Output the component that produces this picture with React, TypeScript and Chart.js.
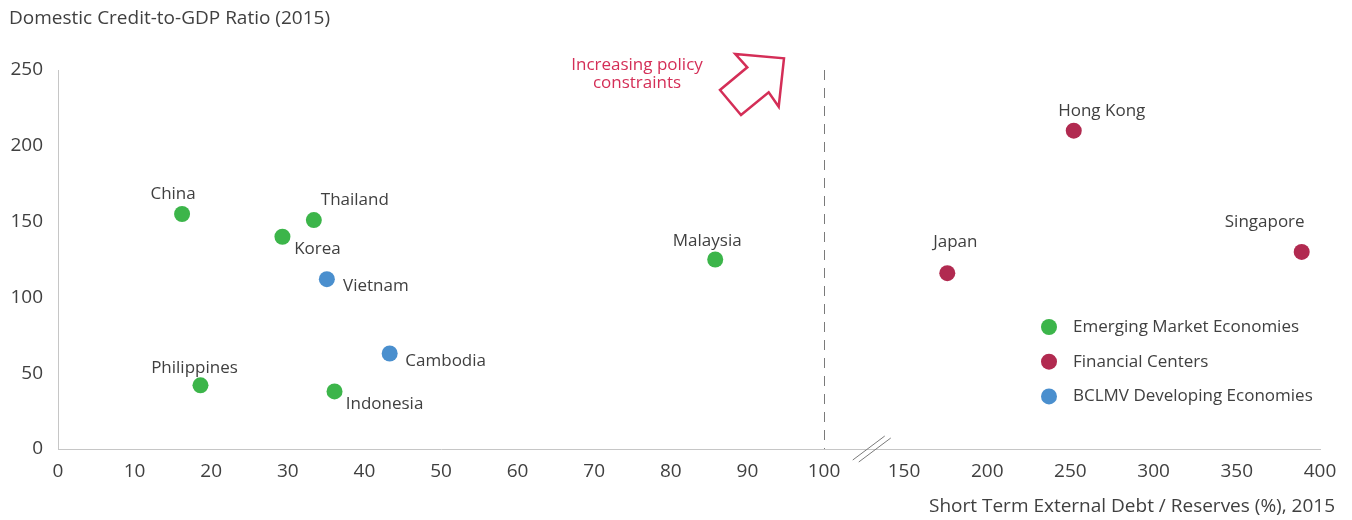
import React, { useEffect, useRef } from 'react';
import { Chart, registerables } from 'chart.js';

Chart.register(...registerables);

// ---------- data ----------
const seriesNames = ['Emerging Market Economies', 'Financial Centers', 'BCLMV Developing Economies'];
const seriesColors = ['#3cb54a', '#b12a50', '#4a8fce'];

const emergingNames = ['China', 'Thailand', 'Korea', 'Malaysia', 'Philippines', 'Indonesia'];
const emergingX = [16.2, 33.4, 29.3, 85.8, 18.6, 36.1];
const emergingY = [155, 151, 140, 125, 42, 38];

const financialNames = ['Hong Kong', 'Japan', 'Singapore'];
const financialX = [252, 176, 389];
const financialY = [210, 116, 130];

const bclmvNames = ['Vietnam', 'Cambodia'];
const bclmvX = [35.1, 43.3];
const bclmvY = [112, 63];

const leftTicks = [0, 10, 20, 30, 40, 50, 60, 70, 80, 90, 100];
const rightTicks = [150, 200, 250, 300, 350, 400];
const yTicks = [0, 50, 100, 150, 200, 250];

const yTitle = 'Domestic Credit-to-GDP Ratio (2015)';
const xTitle = 'Short Term External Debt / Reserves (%), 2015';
const noteLines = ['Increasing policy', 'constraints'];

// ---------- layout / style (not data) ----------
const FONT = '"Open Sans", "DejaVu Sans", sans-serif';
const TEXT = '#404040';
const AXIS = '#c6c6c6';
const NOTE = '#d42e57';

// label offsets (px) relative to point centre
const labelOffsets: Record<string, [number, number]> = {
  China: [-9, -20],
  Thailand: [41, -20],
  Korea: [35, 12],
  Vietnam: [49, 7],
  Philippines: [-6, -17],
  Cambodia: [56, 8],
  Indonesia: [50, 13],
  Malaysia: [-8, -18],
  'Hong Kong': [28, -19],
  Japan: [8, -31],
  Singapore: [-37, -30],
};

const zip = (names: string[], xs: number[], ys: number[]) =>
  names.map((n, i) => ({ x: xs[i], y: ys[i], name: n }));

const annotPlugin = {
  id: 'annot',
  beforeDatasetsDraw(chart: any) {
    const { ctx, chartArea, scales } = chart;
    const x = Math.round(scales.xL.getPixelForValue(100)) + 0.5;
    ctx.save();
    ctx.strokeStyle = '#7a7a7a';
    ctx.lineWidth = 1;
    ctx.setLineDash([10, 8]);
    ctx.beginPath();
    ctx.moveTo(x, chartArea.top);
    ctx.lineTo(x, chartArea.bottom);
    ctx.stroke();
    ctx.restore();
  },
  afterDatasetsDraw(chart: any) {
    const { ctx } = chart;
    ctx.save();
    ctx.font = `17px ${FONT}`;
    ctx.fillStyle = TEXT;
    ctx.textAlign = 'center';
    ctx.textBaseline = 'middle';
    chart.data.datasets.forEach((ds: any, di: number) => {
      const meta = chart.getDatasetMeta(di);
      meta.data.forEach((el: any, i: number) => {
        const name = ds.data[i].name;
        const off = labelOffsets[name] || [0, -18];
        ctx.fillText(name, el.x + off[0], el.y + off[1]);
      });
    });
    ctx.restore();
  },
  afterDraw(chart: any) {
    const { ctx, chartArea, scales } = chart;
    ctx.save();
    // y title (top-left)
    ctx.font = `19px ${FONT}`;
    ctx.fillStyle = TEXT;
    ctx.textAlign = 'left';
    ctx.textBaseline = 'middle';
    ctx.fillText(yTitle, 9, 19);
    // x title (bottom-right)
    ctx.textAlign = 'right';
    ctx.fillText(xTitle, chartArea.right + 15, 507);

    // legend
    ctx.font = `17px ${FONT}`;
    chart.data.datasets.forEach((ds: any, i: number) => {
      const cy = chartArea.bottom - 122 + i * 34.7;
      const cx = chartArea.right - 271;
      ctx.fillStyle = ds.backgroundColor;
      ctx.beginPath();
      ctx.arc(cx, cy, 8, 0, Math.PI * 2);
      ctx.fill();
      ctx.fillStyle = TEXT;
      ctx.textAlign = 'left';
      ctx.fillText(ds.label, cx + 24, cy);
    });

    // axis break marks
    const bx = scales.xR.getPixelForValue(130);
    const by = chartArea.bottom;
    ctx.strokeStyle = '#7a7a7a';
    ctx.lineWidth = 1;
    ctx.beginPath();
    ctx.moveTo(bx - 18, by + 11);
    ctx.lineTo(bx + 14, by - 13);
    ctx.moveTo(bx - 12, by + 13);
    ctx.lineTo(bx + 20, by - 11);
    ctx.stroke();

    // arrow annotation
    const ax = scales.xL.getPixelForValue(100);
    const ay = chartArea.top;
    const pts: [number, number][] = [
      [-88.7, -16],
      [-40, -11.7],
      [-45.3, 36.7],
      [-55.3, 22.3],
      [-83, 45],
      [-104, 20],
      [-76.7, -2.7],
    ];
    ctx.strokeStyle = NOTE;
    ctx.lineWidth = 2.5;
    ctx.lineJoin = 'miter';
    ctx.beginPath();
    pts.forEach(([dx, dy], i) => {
      if (i === 0) ctx.moveTo(ax + dx, ay + dy);
      else ctx.lineTo(ax + dx, ay + dy);
    });
    ctx.closePath();
    ctx.stroke();

    ctx.fillStyle = NOTE;
    ctx.font = `17px ${FONT}`;
    ctx.textAlign = 'center';
    ctx.textBaseline = 'middle';
    ctx.fillText(noteLines[0], ax - 187, ay - 5);
    ctx.fillText(noteLines[1], ax - 187, ay + 13.5);
    ctx.restore();
  },
};

const tickFont = { family: FONT, size: 19 };

export default function App() {
  const ref = useRef<HTMLCanvasElement | null>(null);
  useEffect(() => {
    if (!ref.current) return;
    const chart = new Chart(ref.current, {
      type: 'scatter',
      data: {
        datasets: [
          {
            label: seriesNames[0],
            data: zip(emergingNames, emergingX, emergingY),
            backgroundColor: seriesColors[0],
            xAxisID: 'xL',
            yAxisID: 'y',
          },
          {
            label: seriesNames[1],
            data: zip(financialNames, financialX, financialY),
            backgroundColor: seriesColors[1],
            xAxisID: 'xR',
            yAxisID: 'y',
          },
          {
            label: seriesNames[2],
            data: zip(bclmvNames, bclmvX, bclmvY),
            backgroundColor: seriesColors[2],
            xAxisID: 'xL',
            yAxisID: 'y',
          },
        ] as any,
      },
      options: {
        animation: false,
        responsive: false,
        events: [],
        layout: { padding: { left: 10, right: 32, top: 70, bottom: 0 } },
        elements: { point: { radius: 8, borderWidth: 0, hoverRadius: 8 } },
        plugins: { legend: { display: false }, tooltip: { enabled: false }, title: { display: false } },
        scales: {
          xL: {
            type: 'linear',
            position: 'bottom',
            stack: 'xs',
            stackWeight: 766,
            min: 0,
            max: 100,
            grid: { display: false, drawTicks: false },
            border: { display: true, color: AXIS, width: 1 },
            ticks: { color: TEXT, font: tickFont, padding: 11, maxRotation: 0, autoSkip: false },
            afterBuildTicks: (s: any) => {
              s.ticks = leftTicks.map((v) => ({ value: v }));
            },
            afterFit: (s: any) => {
              s.height = 71;
            },
          },
          xR: {
            type: 'linear',
            position: 'bottom',
            stack: 'xs',
            stackWeight: 496,
            min: 101.9,
            max: 400,
            grid: { display: false, drawTicks: false },
            border: { display: true, color: AXIS, width: 1 },
            ticks: { color: TEXT, font: tickFont, padding: 11, maxRotation: 0, autoSkip: false },
            afterBuildTicks: (s: any) => {
              s.ticks = rightTicks.map((v) => ({ value: v }));
            },
            afterFit: (s: any) => {
              s.height = 71;
            },
          },
          y: {
            type: 'linear',
            position: 'left',
            min: 0,
            max: 250,
            grid: { display: false, drawTicks: false },
            border: { display: true, color: AXIS, width: 1 },
            ticks: { color: TEXT, font: tickFont, padding: 15 },
            afterBuildTicks: (s: any) => {
              s.ticks = yTicks.map((v) => ({ value: v }));
            },
            afterFit: (s: any) => {
              s.width = 48;
            },
          },
        } as any,
      },
      plugins: [annotPlugin as any],
    });
    return () => chart.destroy();
  }, []);

  return (
    <div style={{ position: 'fixed', left: 0, top: 0, width: 1352, height: 520, background: '#fff' }}>
      <canvas ref={ref} width={1352} height={520} style={{ width: 1352, height: 520, display: 'block' }} />
    </div>
  );
}
